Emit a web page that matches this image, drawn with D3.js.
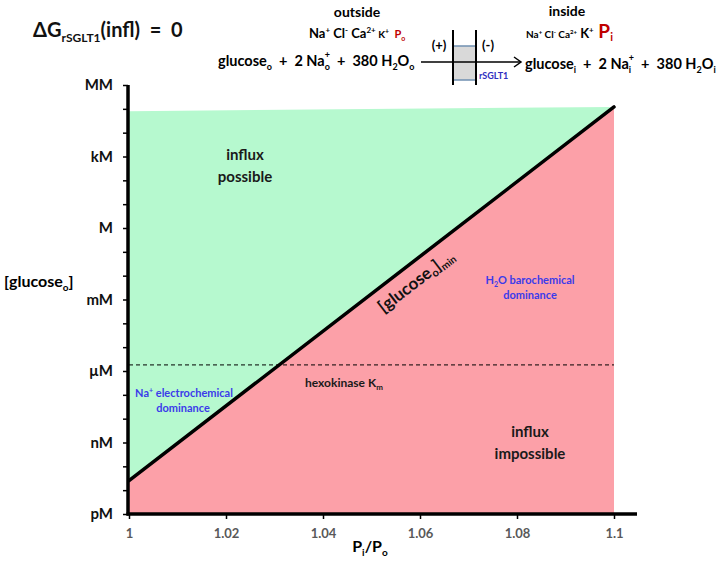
<!DOCTYPE html>
<html><head><meta charset="utf-8">
<script src="https://cdn.jsdelivr.net/npm/d3@7"></script>
<style>
body{margin:0;background:#fff}
svg{display:block;font-family:Lato,"Open Sans",sans-serif;font-weight:bold}
svg text{white-space:pre}
</style></head>
<body><svg id="c" width="720" height="564"></svg>
<script>
// ---- data ----
const xTicks = [1, 1.02, 1.04, 1.06, 1.08, 1.1];
const xTickLabels = ["1", "1.02", "1.04", "1.06", "1.08", "1.1"];
const yTickExps = [-12,-11,-10,-9,-8,-7,-6,-5,-4,-3,-2,-1,0,1,2,3,4,5,6];
const yMajorExps = [-12, -9, -6, -3, 0, 3, 6];
const yMajorLabels = ["pM", "nM", "µM", "mM", "M", "kM", "MM"];
// boundary [glucose_o]min (M) vs Pi/Po
const boundaryX = [1, 1.1];
const boundaryY = [2.5e-11, 1.2e5];
// upper edge of green region
const greenTopY = [8e4, 1.2e5];
const floorY = 1e-12;
const hexokinaseKm = 1.8e-6;

// ---- scales ----
const svg = d3.select("#c");
const x = d3.scaleLinear().domain([1, 1.1]).range([129, 614]);
const y = d3.scaleLog().domain([1e-12, 1e6]).range([514, 85]);

// regions
const green = [[boundaryX[0], greenTopY[0]], [boundaryX[1], greenTopY[1]], [boundaryX[1], boundaryY[1]], [boundaryX[0], boundaryY[0]]];
const pink = [[boundaryX[0], boundaryY[0]], [boundaryX[1], boundaryY[1]], [boundaryX[1], floorY], [boundaryX[0], floorY]];
const area = d3.line().x(d => x(d[0])).y(d => y(d[1]));
svg.append("path").attr("d", area(green) + "Z").attr("fill", "#b6f9cf");
svg.append("path").attr("d", area(pink) + "Z").attr("fill", "#fca0a8");

// dashed hexokinase line
svg.append("line").attr("x1", x(1)).attr("x2", x(1.1)).attr("y1", y(hexokinaseKm)).attr("y2", y(hexokinaseKm))
  .attr("stroke", "#000").attr("stroke-width", 1).attr("stroke-dasharray", "4,3");

// boundary line
svg.append("path").attr("d", area(boundaryX.map((v, i) => [v, boundaryY[i]])))
  .attr("stroke", "#000").attr("stroke-width", 3.5).attr("fill", "none").attr("stroke-linecap", "round");

// y axis
const yAxis = d3.axisLeft(y).tickValues(yTickExps.map(e => Math.pow(10, e))).tickSize(5).tickFormat(() => "");
const gy = svg.append("g").attr("transform", `translate(${x(1) - 1},0)`).call(yAxis);
gy.select(".domain").attr("stroke-width", 3.5).attr("d", `M0,${y(1e6)}V${y(1e-12) + 1.5}`);
gy.selectAll(".tick line").attr("stroke-width", 1.5);
svg.selectAll(".ymaj").data(yMajorExps).join("text").attr("class", "ymaj")
  .attr("x", 113).attr("y", e => y(Math.pow(10, e)) + 5).attr("text-anchor", "end")
  .attr("font-size", 15).attr("fill", "#111").text((e, i) => yMajorLabels[i]);

// x axis
const xAxis = d3.axisBottom(x).tickValues(xTicks).tickSize(5).tickFormat((d, i) => xTickLabels[i]);
const gx = svg.append("g").attr("transform", `translate(0,${y(1e-12)})`).call(xAxis);
gx.select(".domain").attr("stroke-width", 3.5).attr("d", `M${x(1) - 2.5},0H${x(1.1) + 23}`);
gx.selectAll(".tick line").attr("stroke-width", 1.5);
gx.selectAll(".tick text").attr("font-size", 13).attr("fill", "#595959").attr("font-family", "Lato,sans-serif")
  .attr("font-weight", "bold").attr("dy", "1.2em");

// axis titles
const xt = svg.append("text").attr("x", 370).attr("y", 552).attr("text-anchor", "middle").attr("font-size", 16);
xt.append("tspan").text("P");
xt.append("tspan").attr("font-size", 10).attr("dy", 4).text("i");
xt.append("tspan").attr("dy", -4).text("/P");
xt.append("tspan").attr("font-size", 10).attr("dy", 4).text("o");

const yt = svg.append("text").attr("x", 4).attr("y", 287).attr("font-size", 16);
yt.append("tspan").text("[glucose");
yt.append("tspan").attr("font-size", 10).attr("dy", 4).text("o");
yt.append("tspan").attr("dy", -4).text("]");

// region labels
function lines(txt, cx, cy, size, color, lh) {
  const t = svg.append("text").attr("text-anchor", "middle").attr("font-size", size).attr("fill", color);
  txt.forEach((s, i) => t.append("tspan").attr("x", cx).attr("y", cy + i * lh).text(s));
  return t;
}
lines(["influx", "possible"], 245, 160, 15, "#1a1a1a", 22);
lines(["influx", "impossible"], 530, 437, 15, "#1a1a1a", 22);
const na = svg.append("text").attr("text-anchor", "middle").attr("font-size", 11).attr("fill", "#3b3bea");
na.append("tspan").attr("x", 184).attr("y", 397).text("Na");
na.append("tspan").attr("font-size", 7).attr("dy", -4).text("+");
na.append("tspan").attr("dy", 4).text(" electrochemical");
na.append("tspan").attr("x", 183).attr("y", 412).text("dominance");

const h2o = svg.append("text").attr("text-anchor", "middle").attr("font-size", 11).attr("fill", "#3b3bea");
h2o.append("tspan").attr("x", 530).attr("y", 284).text("H");
h2o.append("tspan").attr("font-size", 7).attr("dy", 3).text("2");
h2o.append("tspan").attr("dy", -3).text("O barochemical");
h2o.append("tspan").attr("x", 530).attr("y", 299).text("dominance");

const hk = svg.append("text").attr("x", 305).attr("y", 387).attr("font-size", 12).attr("fill", "#1a1a1a");
hk.append("tspan").text("hexokinase K");
hk.append("tspan").attr("font-size", 8).attr("dy", 3).text("m");

// rotated boundary label
const p0 = [x(boundaryX[0]), y(boundaryY[0])], p1 = [x(boundaryX[1]), y(boundaryY[1])];
const ang = Math.atan2(p1[1] - p0[1], p1[0] - p0[0]) * 180 / Math.PI;
const tpos = 0.57;
const mx = p0[0] + (p1[0] - p0[0]) * tpos, my = p0[1] + (p1[1] - p0[1]) * tpos;
const bl = svg.append("text").attr("transform", `translate(${mx},${my}) rotate(${ang}) translate(0,23)`)
  .attr("text-anchor", "middle").attr("font-size", 17).attr("fill", "#111");
bl.append("tspan").text("[glucose");
bl.append("tspan").attr("font-size", 11).attr("dy", 3).text("o");
bl.append("tspan").attr("dy", -3).text("]");
bl.append("tspan").attr("font-size", 10).attr("dy", 3).text("min");

// ---- header ----
const tt = svg.append("text").attr("x", 33).attr("y", 37).attr("font-size", 20).attr("fill", "#111");
tt.append("tspan").text("ΔG");
tt.append("tspan").attr("font-size", 12).attr("dy", 5).text("rSGLT1");
tt.append("tspan").attr("dy", -5).text("(infl)  =  0");

svg.append("text").attr("x", 357).attr("y", 17).attr("text-anchor", "middle").attr("font-size", 14).text("outside");
svg.append("text").attr("x", 567).attr("y", 16).attr("text-anchor", "middle").attr("font-size", 14).text("inside");

const io = svg.append("text").attr("x", 309).attr("y", 38).attr("font-size", 13);
io.append("tspan").text("Na");
io.append("tspan").attr("font-size", 8).attr("dy", -5).text("+");
io.append("tspan").attr("dy", 5).text(" Cl");
io.append("tspan").attr("font-size", 8).attr("dy", -5).text("-");
io.append("tspan").attr("dy", 5).text(" Ca");
io.append("tspan").attr("font-size", 8).attr("dy", -5).text("2+");
io.append("tspan").attr("dy", 5).attr("font-size", 10).text(" K");
io.append("tspan").attr("font-size", 7).attr("dy", -4).text("+");
io.append("tspan").attr("dy", 4).attr("font-size", 11).attr("fill", "#c00000").text("  P");
io.append("tspan").attr("font-size", 7).attr("dy", 3).attr("fill", "#c00000").text("o");

const ii = svg.append("text").attr("x", 526).attr("y", 38).attr("font-size", 10);
ii.append("tspan").text("Na");
ii.append("tspan").attr("font-size", 6).attr("dy", -4).text("+");
ii.append("tspan").attr("dy", 4).text(" Cl");
ii.append("tspan").attr("font-size", 6).attr("dy", -4).text("-");
ii.append("tspan").attr("dy", 4).text(" Ca");
ii.append("tspan").attr("font-size", 6).attr("dy", -4).text("2+");
ii.append("tspan").attr("dy", 4).attr("font-size", 13).text(" K");
ii.append("tspan").attr("font-size", 8).attr("dy", -5).text("+");
ii.append("tspan").attr("dy", 5).attr("font-size", 19).attr("fill", "#c00000").text(" P");
ii.append("tspan").attr("font-size", 11).attr("dy", 3).attr("fill", "#c00000").text("i");

function eq(x0, y0, s) {
  const t = svg.append("text").attr("x", x0).attr("y", y0).attr("font-size", 14.5);
  t.append("tspan").text("glucose");
  t.append("tspan").attr("font-size", 9).attr("dy", 4).text(s);
  t.append("tspan").attr("dy", -4).text("  +  2 Na");
  const sub = t.append("tspan").attr("font-size", 9).attr("dy", 4).text(s);
  const w = sub.node().getComputedTextLength();
  t.append("tspan").attr("font-size", 9).attr("dx", -w).attr("dy", -12).text("+");
  t.append("tspan").attr("dy", 8).text("  +  380 H");
  t.append("tspan").attr("font-size", 9).attr("dy", 4).text("2");
  t.append("tspan").attr("dy", -4).text("O");
  t.append("tspan").attr("font-size", 9).attr("dy", 4).text(s);
}
eq(218, 66, "o");
eq(525, 69, "i");

// membrane
svg.append("rect").attr("x", 453).attr("y", 46).attr("width", 23).attr("height", 34).attr("fill", "#d9d9d9");
svg.append("line").attr("x1", 453).attr("x2", 476).attr("y1", 46).attr("y2", 46).attr("stroke", "#6f8fb0").attr("stroke-width", 1.5);
svg.append("line").attr("x1", 453).attr("x2", 476).attr("y1", 80).attr("y2", 80).attr("stroke", "#6f8fb0").attr("stroke-width", 1.5);
[453, 476].forEach(v => svg.append("line").attr("x1", v).attr("x2", v).attr("y1", 30).attr("y2", 85).attr("stroke", "#000").attr("stroke-width", 2));
svg.append("line").attr("x1", 421).attr("x2", 521).attr("y1", 62).attr("y2", 62).attr("stroke", "#000").attr("stroke-width", 1.5);
svg.append("path").attr("d", "M514,57L521,62L514,67").attr("fill", "none").attr("stroke", "#000").attr("stroke-width", 1.5);
svg.append("text").attr("x", 439).attr("y", 50).attr("text-anchor", "middle").attr("font-size", 13).text("(+)");
svg.append("text").attr("x", 488).attr("y", 50).attr("text-anchor", "middle").attr("font-size", 13).text("(-)");
svg.append("text").attr("x", 479).attr("y", 79).attr("font-size", 9).attr("fill", "#2e2ec0").text("rSGLT1");
</script></body></html>
